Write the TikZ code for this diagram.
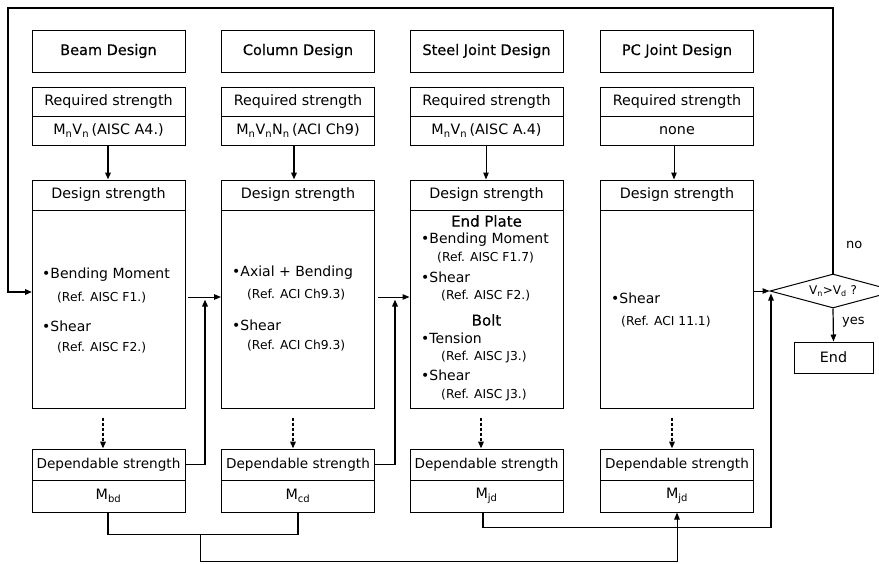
\documentclass[tikz,border=0pt]{standalone}
\usepackage{fontspec}
\setmainfont{DejaVu Sans}
\newfontfamily\heavyfont[FakeBold=0.4]{DejaVu Sans}
\usetikzlibrary{arrows.meta,shapes.geometric,calc}
\begin{document}
\begin{tikzpicture}[x=1pt,y=-1pt,
  box/.style={draw, line width=1pt, minimum width=153pt, inner sep=0pt, font=\fontsize{14.3}{16}\selectfont},
  ttl/.style={box, minimum height=42pt, font=\heavyfont\fontsize{14.5}{16}\selectfont},
  bul/.style={anchor=west, inner sep=0pt, font=\fontsize{14}{16}\selectfont},
  refl/.style={anchor=west, inner sep=0pt, font=\fontsize{12.3}{14}\selectfont},
  hd/.style={inner sep=0pt, font=\heavyfont\fontsize{15}{17}\selectfont},
  tip/.style={-{Triangle[length=7pt,width=5.5pt]}},
  thickarr/.style={tip, line width=1.8pt},
  thinarr/.style={tip, line width=1pt},
  dasharr/.style={tip, line width=1.8pt, dash pattern=on 3pt off 2pt, shorten <=9pt},
  conn/.style={line width=1.1pt},
  lbl/.style={inner sep=0pt, font=\fontsize{13}{15}\selectfont}
]
\useasboundingbox (0,0) rectangle (879,563);
\clip (0,0) rectangle (879,563);
\fill[white] (0,0) rectangle (879,563);

% columns
\foreach \n/\x in {1/108.5, 2/298, 3/486.5, 4/677}{
  \node[box, minimum height=29pt] (r\n) at (\x,101.5) {Required strength};
  \node[box, minimum height=30pt] (dh\n) at (\x,195) {Design strength};
  \node[box, minimum height=198pt] (db\n) at (\x,309) {};
  \node[box, minimum height=31pt, font=\fontsize{13.6}{16}\selectfont] (dp\n) at (\x,464.5) {Dependable strength};
}
\node[ttl] (t1) at (108.5,51) {Beam Design};
\node[ttl] (t2) at (298,51) {Column Design};
\node[ttl] (t3) at (486.5,51) {Steel Joint Design};
\node[ttl] (t4) at (677,51) {PC Joint Design};

\node[box, minimum height=29pt] (rv1) at (108.5,130.5) {M\textsubscript{n}V\textsubscript{n}\,(AISC A4.)};
\node[box, minimum height=29pt] (rv2) at (298,130.5) {M\textsubscript{n}V\textsubscript{n}N\textsubscript{n}\,(ACI Ch9)};
\node[box, minimum height=29pt] (rv3) at (486.5,130.5) {M\textsubscript{n}V\textsubscript{n}\,(AISC A.4)};
\node[box, minimum height=29pt] (rv4) at (677,130.5) {none};

\node[box, minimum height=32pt] (dv1) at (108.5,496) {M\textsubscript{bd}};
\node[box, minimum height=32pt] (dv2) at (298,496) {M\textsubscript{cd}};
\node[box, minimum height=32pt] (dv3) at (486.5,496) {M\textsubscript{jd}};
\node[box, minimum height=32pt] (dv4) at (677,496) {M\textsubscript{jd}};

% design strength contents
\node[bul] (b1a) at (42,275) {•Bending Moment};
\node[refl] (b1b) at (57,298) {(Ref. AISC F1.)};
\node[bul] (b1c) at (42,326) {•Shear};
\node[refl] (b1d) at (57,348) {(Ref. AISC F2.)};

\node[bul] (b2a) at (232,273) {•Axial + Bending};
\node[refl] (b2b) at (247,295) {(Ref. ACI Ch9.3)};
\node[bul] (b2c) at (232,325) {•Shear};
\node[refl] (b2d) at (247,346) {(Ref. ACI Ch9.3)};

\node[hd] (b3h) at (486.5,221) {End Plate};
\node[bul] (b3a) at (421,240) {•Bending Moment};
\node[refl] (b3b) at (437,258) {(Ref. AISC F1.7)};
\node[bul] (b3c) at (421,277) {•Shear};
\node[refl] (b3d) at (441,296) {(Ref. AISC F2.)};
\node[hd] (b3i) at (486.5,320) {Bolt};
\node[bul] (b3e) at (421,338) {•Tension};
\node[refl] (b3f) at (441,357) {(Ref. AISC J3.)};
\node[bul] (b3g) at (421,375) {•Shear};
\node[refl] (b3j) at (441,395) {(Ref. AISC J3.)};

\node[bul] (b4a) at (611,298) {•Shear};
\node[refl] (b4b) at (621,322) {(Ref. ACI 11.1)};

% decision
\node[draw, line width=1pt, shape=diamond, aspect=3.7, inner sep=0pt, minimum width=126pt, minimum height=34pt, font=\fontsize{12}{14}\selectfont] (dia) at (833,291) {V\textsubscript{n}>V\textsubscript{d} ?};
\node[box, minimum width=79pt, minimum height=31pt] (end) at (833.5,357.5) {End};
\node[lbl, anchor=west] (no) at (846,245) {no};
\node[lbl, anchor=west] (yes) at (842,322) {yes};

% required -> design
\draw[thickarr] ([xshift=-0.5pt]rv1.south) -- ([xshift=-0.5pt]dh1.north);
\draw[thickarr] ([xshift=-4pt]rv2.south) -- ([xshift=-4pt]dh2.north);
\draw[thinarr] ([xshift=-0.5pt]rv3.south) -- ([xshift=-0.5pt]dh3.north);
\draw[thinarr] ([xshift=-3pt]rv4.south) -- ([xshift=-3pt]dh4.north);

% design -> dependable (dashed)
\draw[dasharr] ([xshift=-5.5pt]db1.south) -- ([xshift=-5.5pt]dp1.north);
\draw[dasharr] ([xshift=-5pt]db2.south) -- ([xshift=-5pt]dp2.north);
\draw[dasharr] ([xshift=-5.5pt]db3.south) -- ([xshift=-5.5pt]dp3.north);
\draw[dasharr] ([xshift=-5pt]db4.south) -- ([xshift=-5pt]dp4.north);

% links between columns
\coordinate (h1) at (188,297);
\coordinate (j1) at (205,299.5);
\draw[thinarr] (h1) -- (db2.west |- h1);
\draw[thickarr] (dp1.east) -| (j1);
\coordinate (h2) at (378,297);
\coordinate (j2) at (395,299.5);
\draw[thinarr] (h2) -- (db3.west |- h2);
\draw[thickarr] (dp2.east) -| (j2);
\draw[thinarr] (db4.east |- dia.west) -- (dia.west);

% steel joint -> decision
\coordinate (j3) at (771,293.5);
\draw[thinarr, line width=1.2pt] ([xshift=-3.5pt]dv3.south) -- ++(0,15) -| (j3);

% beam + column -> PC joint
\coordinate (jb) at (200,534);
\draw[conn] ([xshift=-0.5pt]dv1.south) -- ++(0,22) -| (dv2.south);
\draw[thinarr] (jb) -- ++(0,27) -| (dv4.south);

% loop back
\coordinate (c2) at (8,8);
\coordinate (lp) at (32,292);
\draw[thickarr] (dia.north) |- (c2) |- (lp);

% yes -> end
\draw[thinarr, line width=1.2pt] (dia.south) -- (end.north);
\end{tikzpicture}
\end{document}
